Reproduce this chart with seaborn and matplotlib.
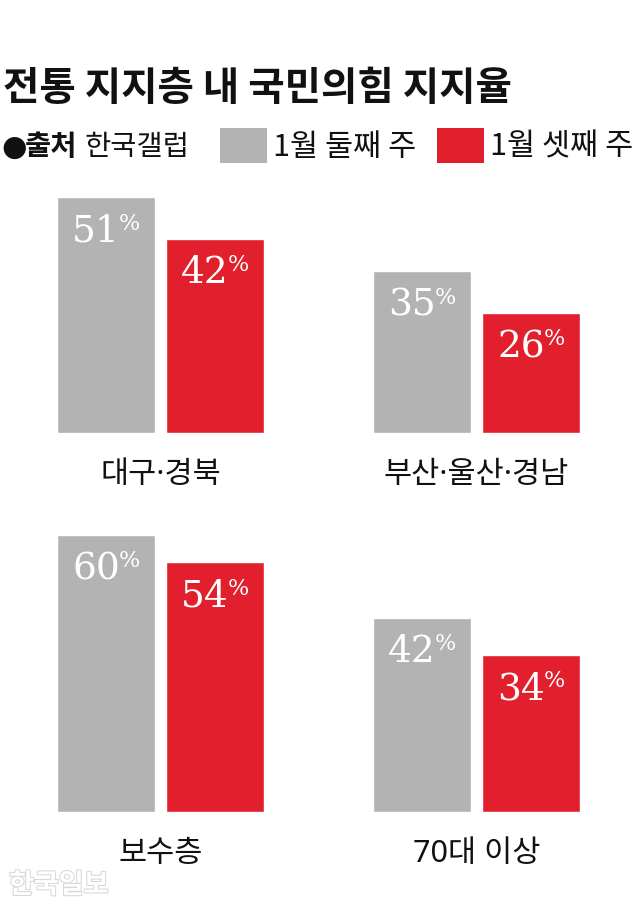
import matplotlib
matplotlib.use('Agg')
import matplotlib.pyplot as plt
import matplotlib.patheffects as pe
from matplotlib.patches import Rectangle
import pandas as pd
import seaborn as sns

# data
groups = ['대구·경북', '부산·울산·경남', '보수층', '70대 이상']
periods = ['1월 둘째 주', '1월 셋째 주']
week2 = [51, 35, 60, 42]
week3 = [42, 26, 54, 34]
colors = ['#b3b3b3', '#e21f2c']

sns.set_theme(style='white')
plt.rcParams['font.family'] = ['Noto Sans CJK KR', 'DejaVu Sans']

W, H = 640, 910
fig = plt.figure(figsize=(W / 100, H / 100), dpi=100)
fig.patch.set_facecolor('white')


def fx(px):
    return px / W


def fy(py):
    return 1 - py / H


# title + legend row
fig.text(fx(3), fy(88), '전통 지지층 내 국민의힘 지지율', fontsize=28.5,
         fontweight='bold', va='center', ha='left', color='#111111')
fig.text(fx(1), fy(148), '●', fontsize=21, va='center', ha='left',
         family=['DejaVu Sans'], color='#111111')
fig.text(fx(25), fy(147), '출처', fontsize=20.5, fontweight='bold', va='center',
         ha='left', color='#111111')
fig.text(fx(84), fy(147), '한국갤럽', fontsize=20.5, va='center', ha='left',
         color='#111111')
for i, (lx, lab) in enumerate([(220, periods[0]), (437, periods[1])]):
    fig.add_artist(Rectangle((fx(lx), fy(163)), 47 / W, 35 / H,
                             transform=fig.transFigure, color=colors[i], lw=0))
    fig.text(fx(lx + 53), fy(147), lab, fontsize=22, va='center', ha='left',
             color='#111111')

# panels: (left px, baseline px)
pos = [(57, 433), (373, 433), (57, 812), (373, 812)]
scale = 4.625  # px per percent
ax_h = 300

for k, g in enumerate(groups):
    lx, base = pos[k]
    ax = fig.add_axes([fx(lx), fy(base), 207 / W, ax_h / H])
    df = pd.DataFrame({'period': periods, 'value': [week2[k], week3[k]]})
    sns.barplot(data=df, x='period', y='value', hue='period', palette=colors,
                width=0.9, saturation=1, legend=False, ax=ax)
    ax.set_xlim(-0.45, 1.45)
    ax.set_ylim(0, ax_h / scale)
    ax.axis('off')
    for j, v in enumerate(df['value']):
        ax.annotate(str(v), xy=(j, v), xytext=(10, -25),
                    textcoords='offset points', ha='right', va='center',
                    fontsize=27, color='white', family=['DejaVu Serif'])
        ax.annotate('%', xy=(j, v), xytext=(9, -19),
                    textcoords='offset points', ha='left', va='center',
                    fontsize=16, color='white', family=['DejaVu Serif'])
    ax.annotate(g, xy=(0.5, 0), xycoords='axes fraction', xytext=(0, -30),
                textcoords='offset points', ha='center', va='center',
                fontsize=22, color='#111111',
                family=['Noto Sans', 'Noto Sans CJK KR'])

# watermark
fig.text(fx(9), fy(885), '한국일보', fontsize=19.5, fontweight='bold',
         va='center', ha='left', color='white',
         path_effects=[pe.withStroke(linewidth=1.5, foreground='#d8d8d8')])

fig.savefig('out.png', dpi=100)
